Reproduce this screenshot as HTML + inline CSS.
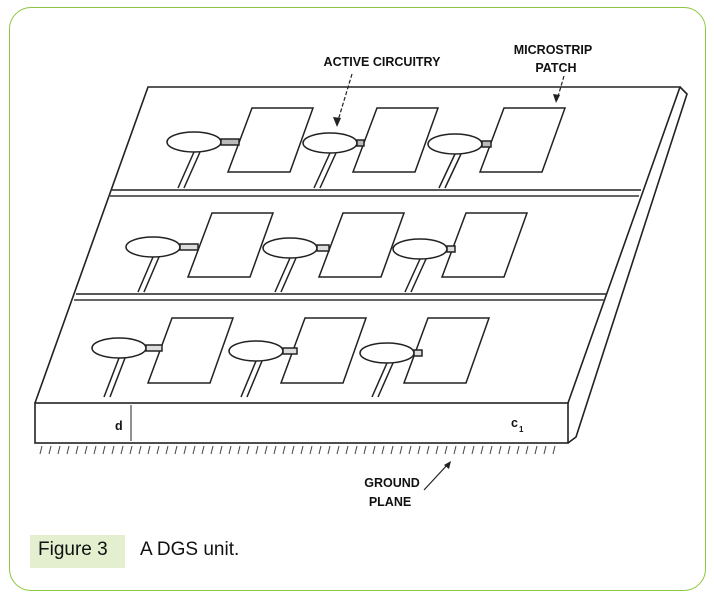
<!DOCTYPE html>
<html><head><style>
body{margin:0;background:#fff;width:714px;height:602px;overflow:hidden;position:relative;font-family:"Liberation Sans",sans-serif}
.frame{position:absolute;left:9px;top:7px;width:697px;height:584px;border:1.5px solid #8cc63f;border-radius:22px;box-sizing:border-box}
.cap{position:absolute;left:30px;top:535px;width:95px;height:33px;background:#e3efcf}
.t{position:absolute;font-family:"Liberation Sans",sans-serif;font-size:19px;color:#111;top:539px}
</style></head><body>
<div class="frame"></div>
<svg width="714" height="602" style="position:absolute;left:0;top:0" font-family="Liberation Sans" font-weight="bold" font-size="12.5" fill="none" stroke="#222" stroke-width="1.6">
<!-- board -->
<polyline points="35,403 148,87 680,87 568,403"/>
<polyline points="680,87 687,94 576,437 568,443"/>
<rect x="35" y="403" width="533" height="40"/>
<line x1="131" y1="405" x2="131" y2="441" stroke-width="1"/>
<!-- separators -->
<line x1="112" y1="190" x2="641" y2="190"/><line x1="110" y1="196" x2="639" y2="196" stroke="#666" stroke-width="2"/>
<line x1="76" y1="294" x2="606" y2="294"/><line x1="74" y1="300" x2="604" y2="300" stroke="#666" stroke-width="2"/>
<g stroke-width="1.5">
<!-- row1 -->
<polygon points="252,108 313,108 290,172 228,172"/>
<polygon points="377,108 438,108 415,172 353,172"/>
<polygon points="504,108 565,108 542,172 480,172"/>
<ellipse cx="194" cy="142" rx="27" ry="10"/><ellipse cx="330" cy="143" rx="27" ry="10"/><ellipse cx="455" cy="144" rx="27" ry="10"/>
<rect x="221" y="139" width="18" height="6" fill="#bbb"/><rect x="357" y="140" width="7" height="6" fill="#bbb"/><rect x="482" y="141" width="9" height="6" fill="#bbb"/>
<path d="M194 152 L178 188 M200 152 L184 188 M330 153 L314 188 M336 153 L320 188 M455 154 L439 188 M461 154 L445 188"/>
<!-- row2 -->
<polygon points="212,213 273,213 250,277 188,277"/>
<polygon points="343,213 404,213 381,277 319,277"/>
<polygon points="466,213 527,213 504,277 442,277"/>
<ellipse cx="153" cy="247" rx="27" ry="10"/><ellipse cx="290" cy="248" rx="27" ry="10"/><ellipse cx="420" cy="249" rx="27" ry="10"/>
<rect x="180" y="244" width="18" height="6" fill="#ddd"/><rect x="317" y="245" width="12" height="6" fill="#ddd"/><rect x="447" y="246" width="8" height="6" fill="#ddd"/>
<path d="M153 257 L138 292 M159 257 L144 292 M290 258 L275 292 M296 258 L281 292 M420 259 L405 292 M426 259 L411 292"/>
<!-- row3 -->
<polygon points="172,318 233,318 210,383 148,383"/>
<polygon points="305,318 366,318 343,383 281,383"/>
<polygon points="428,318 489,318 466,383 404,383"/>
<ellipse cx="119" cy="348" rx="27" ry="10"/><ellipse cx="256" cy="351" rx="27" ry="10"/><ellipse cx="387" cy="353" rx="27" ry="10"/>
<rect x="146" y="345" width="16" height="6" fill="#ddd"/><rect x="283" y="348" width="14" height="6" fill="#ddd"/><rect x="414" y="350" width="8" height="6" fill="#ddd"/>
<path d="M119 358 L104 397 M125 358 L110 397 M256 361 L241 397 M262 361 L247 397 M387 363 L372 397 M393 363 L378 397"/>
</g>
<!-- hatching -->
<path stroke-width="1" stroke="#444" d="M42 446l-2 8M51 446l-2 8M60 446l-2 8M69 446l-2 8M78 446l-2 8M87 446l-2 8M96 446l-2 8M105 446l-2 8M114 446l-2 8M123 446l-2 8M132 446l-2 8M141 446l-2 8M150 446l-2 8M159 446l-2 8M168 446l-2 8M177 446l-2 8M186 446l-2 8M195 446l-2 8M204 446l-2 8M213 446l-2 8M222 446l-2 8M231 446l-2 8M240 446l-2 8M249 446l-2 8M258 446l-2 8M267 446l-2 8M276 446l-2 8M285 446l-2 8M294 446l-2 8M303 446l-2 8M312 446l-2 8M321 446l-2 8M330 446l-2 8M339 446l-2 8M348 446l-2 8M357 446l-2 8M366 446l-2 8M375 446l-2 8M384 446l-2 8M393 446l-2 8M402 446l-2 8M411 446l-2 8M420 446l-2 8M429 446l-2 8M438 446l-2 8M447 446l-2 8M456 446l-2 8M465 446l-2 8M474 446l-2 8M483 446l-2 8M492 446l-2 8M501 446l-2 8M510 446l-2 8M519 446l-2 8M528 446l-2 8M537 446l-2 8M546 446l-2 8M555 446l-2 8"/>
<!-- arrows -->
<g stroke-width="1.2">
<line x1="352" y1="74" x2="337" y2="124" stroke-dasharray="4,2"/>
<line x1="564" y1="76" x2="557" y2="100" stroke-dasharray="4,2"/>
<line x1="424" y1="490" x2="449" y2="463"/>
</g>
<polygon points="337,127 333,117 341,118" fill="#222" stroke="none"/>
<polygon points="556,103 553,94 560,95" fill="#222" stroke="none"/>
<polygon points="451,461 444,465 449,469" fill="#222" stroke="none"/>
<g fill="#111" stroke="none">
<text x="382" y="66" text-anchor="middle">ACTIVE  CIRCUITRY</text>
<text x="553" y="54" text-anchor="middle">MICROSTRIP</text>
<text x="556" y="72" text-anchor="middle">PATCH</text>
<text x="392" y="487" text-anchor="middle">GROUND</text>
<text x="390" y="506" text-anchor="middle">PLANE</text>
<text x="115" y="430">d</text>
<text x="511" y="427">c</text><text x="519" y="432" font-size="8">1</text>
</g>
</svg>
<div class="cap"></div>
<div class="t" style="left:38px">Figure 3</div>
<div class="t" style="left:140px;font-weight:normal">A DGS unit.</div>
</body></html>
